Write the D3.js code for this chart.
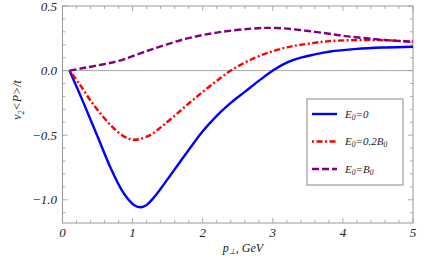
<!DOCTYPE html>
<html>
<head>
<meta charset="utf-8">
<script src="https://cdn.jsdelivr.net/npm/d3@7"></script>
<style>
  body { margin: 0; background: #fff; }
</style>
</head>
<body>
<div id="chart"></div>
<script>
// data
var pBlue = [0.1, 0.3, 0.5, 0.7, 0.85, 0.95, 1.03, 1.12, 1.2, 1.3, 1.4, 1.5, 1.6, 1.8, 2.0, 2.2, 2.4, 2.6, 2.8, 3.0, 3.2, 3.4, 3.6, 3.8, 4.2, 4.6, 5.0];
var vBlue = [0, -0.25, -0.51, -0.77, -0.93, -1.005, -1.045, -1.058, -1.04, -0.985, -0.915, -0.84, -0.765, -0.615, -0.47, -0.35, -0.25, -0.165, -0.08, 0.0, 0.062, 0.1, 0.125, 0.146, 0.168, 0.179, 0.185];

var pRed = [0.1, 0.25, 0.45, 0.7, 0.85, 0.95, 1.02, 1.1, 1.25, 1.4, 1.6, 1.8, 2.0, 2.2, 2.4, 2.7, 3.0, 3.25, 3.5, 3.8, 4.2, 4.6, 5.0];
var vRed = [0, -0.11, -0.27, -0.43, -0.5, -0.528, -0.535, -0.53, -0.5, -0.44, -0.35, -0.255, -0.165, -0.08, 0, 0.088, 0.15, 0.186, 0.208, 0.228, 0.236, 0.235, 0.224];

var pPurple = [0.1, 0.3, 0.55, 0.8, 1.25, 1.75, 2.2, 2.7, 3.05, 3.6, 4.1, 4.6, 5.0];
var vPurple = [0, 0.02, 0.045, 0.075, 0.16, 0.245, 0.294, 0.325, 0.33, 0.30, 0.263, 0.237, 0.222];

var xTicks = [0, 1, 2, 3, 4, 5];
var yTicks = [-1.0, -0.5, 0.0, 0.5];
var legendNames = ["0", "0.2B", "B"];

var svgWidth = 436;
var svgHeight = 272;
var serif = "Liberation Serif";

var svg = d3.select("#chart")
    .append("svg")
    .attr("width", svgWidth)
    .attr("height", svgHeight);

var xScale = d3.scaleLinear().domain([0, 5]).range([62.5, 413]);
var yScale = d3.scaleLinear().domain([-1.18, 0.5]).range([223, 6]);

var frameColor = "#999";

// helper for italic serif text
function addText(sel) {
    return sel.append("text")
        .attr("font-family", serif)
        .attr("font-style", "italic")
        .attr("fill", "#222");
}

// zero line
svg.append("line")
    .attr("x1", xScale(0)).attr("x2", xScale(5))
    .attr("y1", yScale(0)).attr("y2", yScale(0))
    .attr("stroke", "#aaa")
    .attr("stroke-width", 1);

// ticks inside the frame, on all four sides
var xMinor = d3.range(0, 5.001, 0.2);
var yMinor = d3.range(-1.1, 0.501, 0.1);

function isMajor(v, step) {
    return Math.abs(v / step - Math.round(v / step)) < 1e-6;
}

var tickG = svg.append("g").attr("stroke", frameColor).attr("stroke-width", 0.8);
xMinor.forEach(function (v) {
    var len = isMajor(v, 1) ? 5 : 3;
    var x = xScale(v);
    tickG.append("line").attr("x1", x).attr("x2", x).attr("y1", yScale.range()[0]).attr("y2", yScale.range()[0] - len);
    tickG.append("line").attr("x1", x).attr("x2", x).attr("y1", yScale.range()[1]).attr("y2", yScale.range()[1] + len);
});
yMinor.forEach(function (v) {
    var len = isMajor(v, 0.5) ? 5 : 3;
    var y = yScale(v);
    tickG.append("line").attr("x1", xScale(0)).attr("x2", xScale(0) + len).attr("y1", y).attr("y2", y);
    tickG.append("line").attr("x1", xScale(5)).attr("x2", xScale(5) - len).attr("y1", y).attr("y2", y);
});

// frame
svg.append("rect")
    .attr("x", xScale(0))
    .attr("y", yScale(0.5))
    .attr("width", xScale(5) - xScale(0))
    .attr("height", yScale(-1.18) - yScale(0.5))
    .attr("fill", "none")
    .attr("stroke", frameColor)
    .attr("stroke-width", 1);

// tick labels
xTicks.forEach(function (d) {
    addText(svg)
        .attr("x", xScale(d))
        .attr("y", 237)
        .attr("text-anchor", "middle")
        .attr("font-size", 13)
        .text(d);
});

yTicks.forEach(function (d) {
    addText(svg)
        .attr("x", 57)
        .attr("y", yScale(d) + 4.5)
        .attr("text-anchor", "end")
        .attr("font-size", 13)
        .text(d3.format(".1f")(d).replace("-", "\u2212"));
});

// axis titles
var xTitle = addText(svg)
    .attr("x", 243)
    .attr("y", 252)
    .attr("text-anchor", "middle")
    .attr("font-size", 12);
xTitle.append("tspan").text("p");
xTitle.append("tspan").attr("font-size", 8).attr("dy", 2).text("\u22a5");
xTitle.append("tspan").attr("dy", -2).text(", GeV");

var yTitle = addText(svg)
    .attr("transform", "translate(21, 100) rotate(-90)")
    .attr("text-anchor", "middle")
    .attr("font-size", 12);
yTitle.append("tspan").text("v");
yTitle.append("tspan").attr("font-size", 8).attr("dy", 2.5).text("2");
yTitle.append("tspan").attr("dy", -2.5).text("<P>/t");

// curves
var series = [
    { p: pBlue, v: vBlue, color: "#0000ff", dash: null },
    { p: pRed, v: vRed, color: "#ff0000", dash: "2,2.5,6,2.5" },
    { p: pPurple, v: vPurple, color: "#800080", dash: "7,3" }
];

var line = d3.line()
    .x(d => xScale(d[0]))
    .y(d => yScale(d[1]))
    .curve(d3.curveCatmullRom.alpha(0.5));

series.forEach(function (s) {
    svg.append("path")
        .datum(d3.zip(s.p, s.v))
        .attr("d", line)
        .attr("fill", "none")
        .attr("stroke", s.color)
        .attr("stroke-width", 2.4)
        .attr("stroke-dasharray", s.dash);
});

// legend
var legend = svg.append("g");
legend.append("rect")
    .attr("x", 307).attr("y", 99)
    .attr("width", 96).attr("height", 86)
    .attr("fill", "#fff")
    .attr("stroke", "#888")
    .attr("stroke-width", 1);

series.forEach(function (s, i) {
    var y = 114 + i * 27.5;
    legend.append("line")
        .attr("x1", 312).attr("x2", 337)
        .attr("y1", y).attr("y2", y)
        .attr("stroke", s.color)
        .attr("stroke-width", 2.4)
        .attr("stroke-dasharray", s.dash);
    var t = addText(legend)
        .attr("x", 345)
        .attr("y", y + 3.5)
        .attr("font-size", 11);
    t.append("tspan").text("E");
    t.append("tspan").attr("font-size", 7.5).attr("dy", 2).text("0");
    var name = legendNames[i];
    t.append("tspan").attr("dy", -2).text("=" + name);
    if (name.endsWith("B")) {
        t.append("tspan").attr("font-size", 7.5).attr("dy", 2).text("0");
    }
});
</script>
</body>
</html>
